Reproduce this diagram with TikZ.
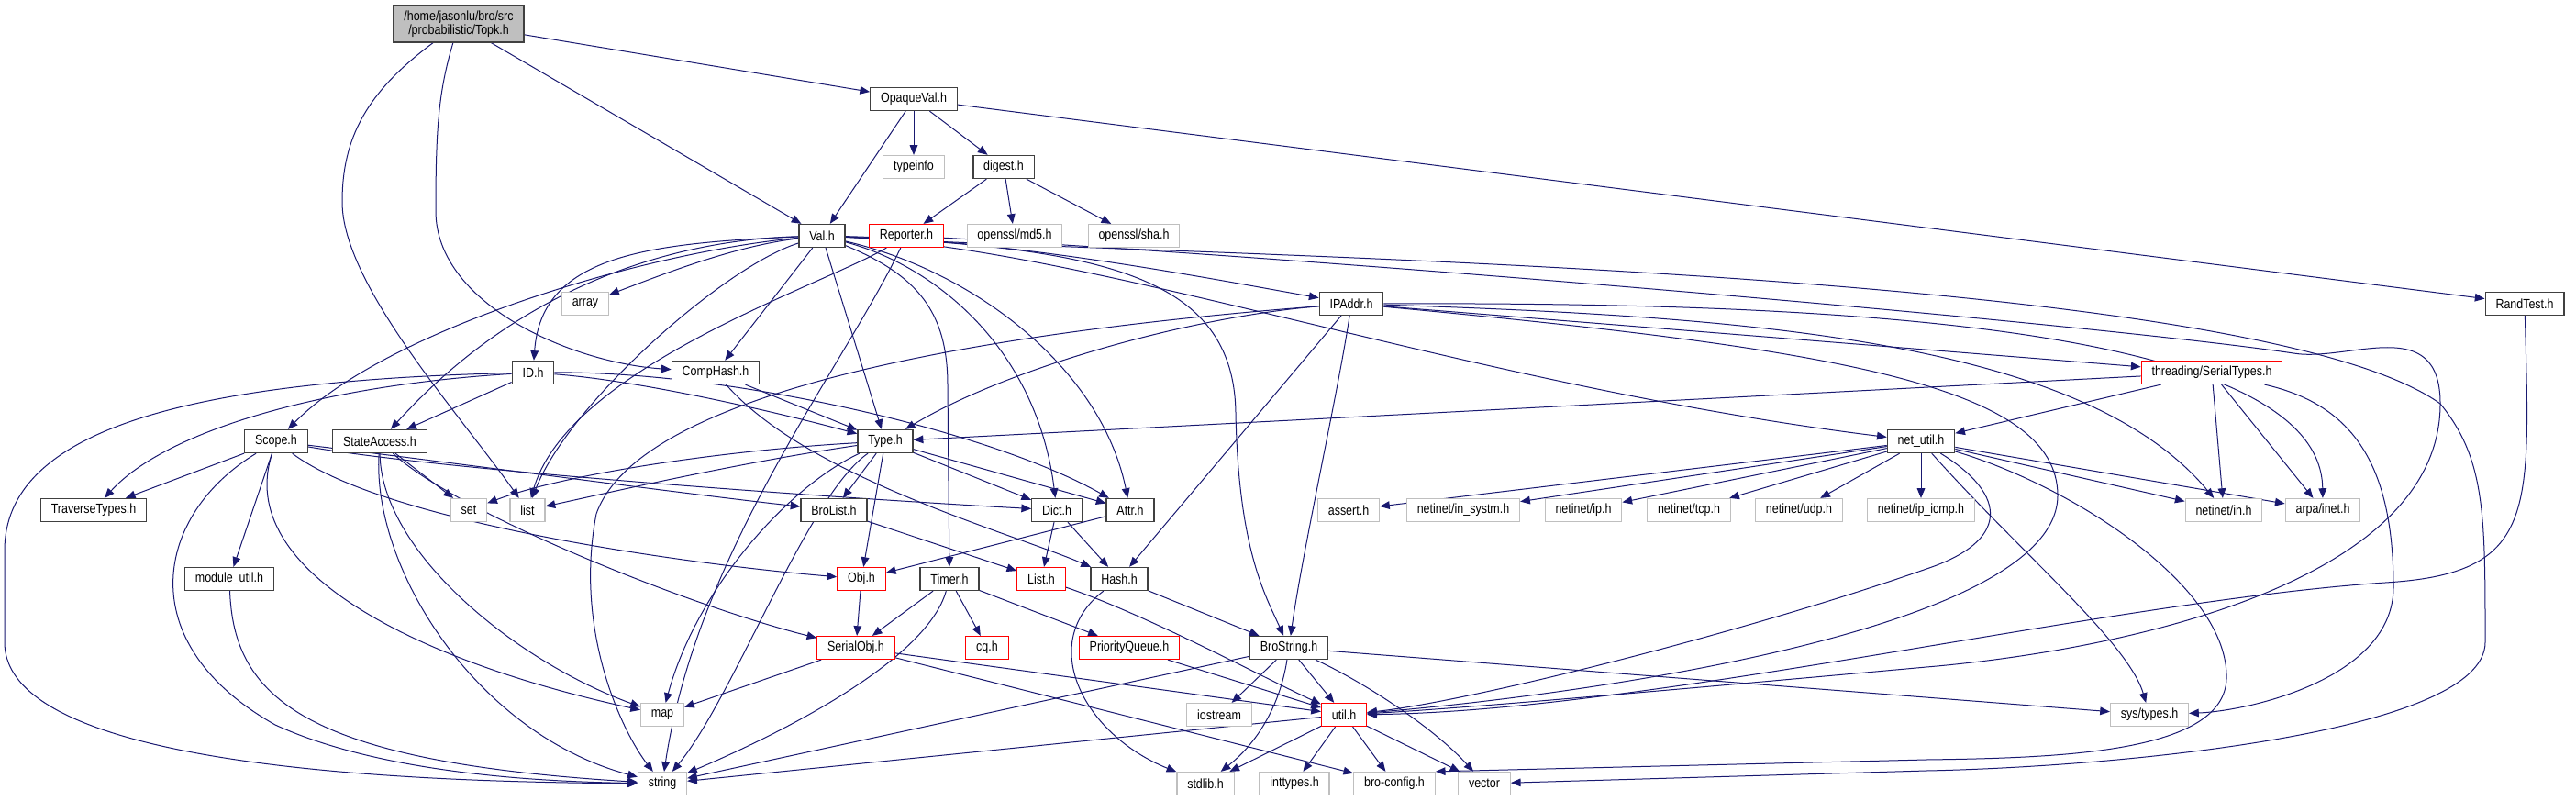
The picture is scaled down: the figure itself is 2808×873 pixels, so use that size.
\documentclass[tikz,border=0pt]{standalone}
\usepackage{fontspec}
\setmainfont{Liberation Sans}[FakeStretch=0.85]
\usetikzlibrary{arrows.meta, backgrounds}

\definecolor{edgeblue}{RGB}{25,25,112}
\definecolor{extgray}{RGB}{191,191,191}

\begin{document}
\begin{tikzpicture}[
		x=0.75pt, y=-0.75pt,
		% caja comun de las cabeceras
		hnode/.style = {rectangle, fill=white, minimum height=18.75pt, inner xsep=8.5pt, inner ysep=0pt, font=\fontsize{11}{11.5}\selectfont},
		hdoc/.style = {hnode, draw=black!75, line width=1pt},
		hext/.style = {hnode, draw=extgray, line width=0.9pt},
		hcut/.style = {hnode, draw=red, line width=0.9pt},
		hroot/.style = {hnode, draw=black!75, fill=extgray, line width=1pt, align=center, minimum height=30pt},
		% arista de include
		incl/.style = {->, draw=edgeblue, line width=0.75pt},
		>={Triangle[length=8pt, width=6.5pt]}
		]
		\useasboundingbox (0,0) rectangle (2808,873);
		
		% --- NIVELES SUPERIORES ---
		\node [hroot] (topk) at (500,26) {/home/jasonlu/bro/src\\/probabilistic/Topk.h};
		\node [hdoc] (opaque) at (996,108) {OpaqueVal.h};
		\node [hext] (typeinfo) at (996,182) {typeinfo};
		\node [hdoc] (digest) at (1094,182) {digest.h};
		\node [hdoc] (val) at (896,257) {Val.h};
		\node [hcut] (reporter) at (988,257) {Reporter.h};
		\node [hext] (md5) at (1106,257) {openssl/md5.h};
		\node [hext] (sha) at (1236,257) {openssl/sha.h};
		\node [hext] (array) at (638,331) {array};
		\node [hdoc] (ipaddr) at (1473,331) {IPAddr.h};
		\node [hdoc] (randtest) at (2752,331) {RandTest.h};
		\node [hdoc] (idh) at (581,406) {ID.h};
		\node [hdoc] (comphash) at (780,406) {CompHash.h};
		\node [hcut] (sertypes) at (2411,406) {threading/SerialTypes.h};
		\node [hdoc] (scope) at (301,481) {Scope.h};
		\node [hdoc] (stateacc) at (414,481) {StateAccess.h};
		\node [hdoc] (type) at (965,481) {Type.h};
		\node [hdoc] (netutil) at (2094,481) {net\_util.h};
		
		% --- FILA CENTRAL ---
		\node [hdoc] (trav) at (102,556) {TraverseTypes.h};
		\node [hext] (set) at (511,556) {set};
		\node [hext] (list) at (575,556) {list};
		\node [hdoc] (brolist) at (909,556) {BroList.h};
		\node [hdoc] (dict) at (1152,556) {Dict.h};
		\node [hdoc] (attr) at (1232,556) {Attr.h};
		\node [hext] (assert) at (1470,556) {assert.h};
		\node [hext] (insystm) at (1595,556) {netinet/in\_systm.h};
		\node [hext] (iph) at (1726,556) {netinet/ip.h};
		\node [hext] (tcp) at (1841,556) {netinet/tcp.h};
		\node [hext] (udp) at (1961,556) {netinet/udp.h};
		\node [hext] (icmp) at (2094,556) {netinet/ip\_icmp.h};
		\node [hext] (netin) at (2424,556) {netinet/in.h};
		\node [hext] (arpa) at (2532,556) {arpa/inet.h};
		\node [hdoc] (modutil) at (250,631) {module\_util.h};
		\node [hcut] (obj) at (939,631) {Obj.h};
		\node [hdoc] (timer) at (1035,631) {Timer.h};
		\node [hcut] (listh) at (1135,631) {List.h};
		\node [hdoc] (hash) at (1220,631) {Hash.h};
		
		% --- NIVELES INFERIORES ---
		\node [hcut] (serobj) at (933,706) {SerialObj.h};
		\node [hcut] (cq) at (1076,706) {cq.h};
		\node [hcut] (pq) at (1231,706) {PriorityQueue.h};
		\node [hdoc] (brostr) at (1405,706) {BroString.h};
		\node [hext] (map) at (722,779) {map};
		\node [hext] (iostream) at (1329,779) {iostream};
		\node [hcut] (util) at (1465,779) {util.h};
		\node [hext] (systypes) at (2343,779) {sys/types.h};
		\node [hext] (string) at (722,854) {string};
		\node [hext] (stdlib) at (1314,854) {stdlib.h};
		\node [hext] (inttypes) at (1411,854) {inttypes.h};
		\node [hext] (broconf) at (1520,854) {bro-config.h};
		\node [hext] (vector) at (1618,854) {vector};
		
		% --- CAPA DE FONDO (aristas detras de las cajas) ---
		\begin{scope}[on background layer]
		% --- Topk.h ---
		\draw [incl] (topk) -- (opaque);
		\draw [incl] (topk) -- (val);
		\draw [incl] (topk) .. controls (400,100) and (373,150) .. (373,220) .. controls (373,310) and (500,450) .. (list);
		\draw [incl] (topk) .. controls (478,100) and (475,140) .. (475,230) .. controls (475,330) and (620,395) .. (comphash);
		
		% --- OpaqueVal.h y digest.h ---
		\draw [incl] (opaque) -- (val);
		\draw [incl] (opaque) -- (typeinfo);
		\draw [incl] (opaque) -- (digest);
		\draw [incl] (opaque) -- (randtest);
		\draw [incl] (digest) -- (reporter);
		\draw [incl] (digest) -- (md5);
		\draw [incl] (digest) -- (sha);
		
		% --- Val.h ---
		\draw [incl] (val) .. controls (800,268) and (720,300) .. (array);
		\draw [incl] (val) .. controls (700,265) and (590,280) .. (idh);
		\draw [incl] (val) .. controls (700,275) and (420,360) .. (scope);
		\draw [incl] (val) .. controls (720,262) and (560,320) .. (stateacc);
		\draw [incl] (val) .. controls (790,290) and (620,440) .. (list);
		\draw [incl] (val) -- (comphash);
		\draw [incl] (val) -- (type);
		\draw [incl] (val) .. controls (1000,300) and (1033,340) .. (1033,420) -- (timer);
		\draw [incl] (val) .. controls (1020,290) and (1130,380) .. (dict);
		\draw [incl] (val) .. controls (1060,295) and (1200,400) .. (attr);
		\draw [incl] (val) .. controls (1200,270) and (1345,300) .. (1347,450) .. controls (1350,600) and (1380,650) .. (brostr);
		\draw [incl] (val) .. controls (1100,262) and (1300,300) .. (ipaddr);
		\draw [incl] (val) .. controls (1200,272) and (1600,420) .. (netutil);
		\draw [incl] (val) .. controls (1300,280) and (2450,290) .. (2660,440) .. controls (2709,500) and (2709,560) .. (2709,700) .. controls (2709,800) and (2300,836) .. (2100,840) -- (vector);
		
		% --- Reporter.h ---
		\draw [incl] (reporter) .. controls (900,310) and (620,400) .. (list);
		\draw [incl] (reporter) .. controls (920,400) and (760,600) .. (string);
		\draw [incl] (reporter) .. controls (1500,285) and (2300,355) .. (2500,385) .. controls (2560,395) and (2660,340) .. (2660,440) .. controls (2660,640) and (2300,710) .. (2100,727) .. controls (1900,745) and (1600,772) .. (util);
		
		% --- ID.h y CompHash.h ---
		\draw [incl] (idh) .. controls (350,420) and (180,470) .. (trav);
		\draw [incl] (idh) -- (stateacc);
		\draw [incl] (idh) .. controls (200,415) and (5,470) .. (5,600) -- (5,700) .. controls (5,830) and (400,852) .. (string);
		\draw [incl] (idh) .. controls (700,415) and (850,450) .. (type);
		\draw [incl] (idh) .. controls (800,405) and (1080,470) .. (attr);
		\draw [incl] (comphash) -- (type);
		\draw [incl] (comphash) .. controls (880,520) and (1100,580) .. (hash);
		
		% --- Scope.h y StateAccess.h ---
		\draw [incl] (scope) -- (trav);
		\draw [incl] (scope) -- (modutil);
		\draw [incl] (scope) .. controls (170,560) and (140,700) .. (300,790) .. controls (420,845) and (600,852) .. (string);
		\draw [incl] (scope) .. controls (255,620) and (450,720) .. (map);
		\draw [incl] (scope) .. controls (420,570) and (750,615) .. (obj);
		\draw [incl] (scope) .. controls (500,505) and (760,540) .. (brolist);
		\draw [incl] (scope) .. controls (500,515) and (950,545) .. (dict);
		\draw [incl] (stateacc) -- (set);
		\draw [incl] (stateacc) .. controls (415,600) and (560,720) .. (map);
		\draw [incl] (stateacc) .. controls (405,620) and (520,800) .. (string);
		\draw [incl] (stateacc) .. controls (500,560) and (750,660) .. (serobj);
		\draw [incl] (modutil) .. controls (255,760) and (330,830) .. (string);
		
		% --- Type.h ---
		\draw [incl] (type) -- (obj);
		\draw [incl] (type) -- (brolist);
		\draw [incl] (type) -- (dict);
		\draw [incl] (type) -- (attr);
		\draw [incl] (type) .. controls (800,490) and (620,515) .. (set);
		\draw [incl] (type) .. controls (800,505) and (650,540) .. (list);
		\draw [incl] (type) .. controls (860,530) and (760,640) .. (map);
		\draw [incl] (type) .. controls (880,540) and (800,760) .. (string);
		
		% --- Dict.h, Attr.h, BroList.h ---
		\draw [incl] (dict) -- (listh);
		\draw [incl] (dict) -- (hash);
		\draw [incl] (attr) -- (obj);
		\draw [incl] (brolist) -- (listh);
		
		% --- Obj.h, Timer.h, SerialObj.h ---
		\draw [incl] (obj) -- (serobj);
		\draw [incl] (timer) -- (serobj);
		\draw [incl] (timer) .. controls (1010,720) and (850,800) .. (string);
		\draw [incl] (timer) -- (cq);
		\draw [incl] (timer) -- (pq);
		\draw [incl] (serobj) -- (map);
		\draw [incl] (serobj) -- (util);
		\draw [incl] (serobj) -- (broconf);
		
		% --- List.h, PriorityQueue.h, Hash.h ---
		\draw [incl] (listh) .. controls (1250,670) and (1380,740) .. (util);
		\draw [incl] (pq) -- (util);
		\draw [incl] (hash) .. controls (1130,700) and (1180,800) .. (stdlib);
		\draw [incl] (hash) -- (brostr);
		
		% --- BroString.h ---
		\draw [incl] (brostr) -- (string);
		\draw [incl] (brostr) -- (iostream);
		\draw [incl] (brostr) .. controls (1395,770) and (1370,810) .. (stdlib);
		\draw [incl] (brostr) -- (util);
		\draw [incl] (brostr) .. controls (1480,740) and (1560,790) .. (vector);
		\draw [incl] (brostr) -- (systypes);
		
		% --- util.h ---
		\draw [incl] (util) -- (string);
		\draw [incl] (util) -- (stdlib);
		\draw [incl] (util) -- (inttypes);
		\draw [incl] (util) -- (broconf);
		\draw [incl] (util) -- (vector);
		
		% --- IPAddr.h ---
		\draw [incl] (ipaddr) .. controls (1300,345) and (1100,400) .. (type);
		\draw [incl] (ipaddr) -- (hash);
		\draw [incl] (ipaddr) .. controls (1460,420) and (1420,600) .. (brostr);
		\draw [incl] (ipaddr) .. controls (1100,360) and (700,420) .. (650,560) .. controls (625,690) and (680,800) .. (string);
		\draw [incl] (ipaddr) .. controls (1900,345) and (2270,370) .. (netin);
		\draw [incl] (ipaddr) .. controls (1900,330) and (2530,340) .. (arpa);
		\draw [incl] (ipaddr) -- (sertypes);
		\draw [incl] (ipaddr) .. controls (2000,380) and (2243,420) .. (2243,540) .. controls (2243,690) and (1700,760) .. (util);
		
		% --- threading/SerialTypes.h ---
		\draw [incl] (sertypes) -- (type);
		\draw [incl] (sertypes) -- (netutil);
		\draw [incl] (sertypes) -- (netin);
		\draw [incl] (sertypes) -- (arpa);
		\draw [incl] (sertypes) .. controls (2560,440) and (2609,500) .. (2609,640) .. controls (2609,740) and (2450,775) .. (systypes);
		
		% --- net_util.h ---
		\draw [incl] (netutil) -- (assert);
		\draw [incl] (netutil) -- (insystm);
		\draw [incl] (netutil) -- (iph);
		\draw [incl] (netutil) -- (tcp);
		\draw [incl] (netutil) -- (udp);
		\draw [incl] (netutil) -- (icmp);
		\draw [incl] (netutil) -- (netin);
		\draw [incl] (netutil) -- (arpa);
		\draw [incl] (netutil) .. controls (2190,540) and (2190,590) .. (2100,620) .. controls (1900,690) and (1600,765) .. (util);
		\draw [incl] (netutil) .. controls (2200,600) and (2320,700) .. (systypes);
		\draw [incl] (netutil) .. controls (2260,530) and (2430,640) .. (2427,740) .. controls (2424,820) and (2250,826) .. (2100,828) -- (broconf.north east);
		
		% --- RandTest.h ---
		\draw [incl] (randtest) .. controls (2758,560) and (2765,625) .. (2600,635) .. controls (2300,655) and (1800,775) .. (util);
		\end{scope}
		
	\end{tikzpicture}
\end{document}
